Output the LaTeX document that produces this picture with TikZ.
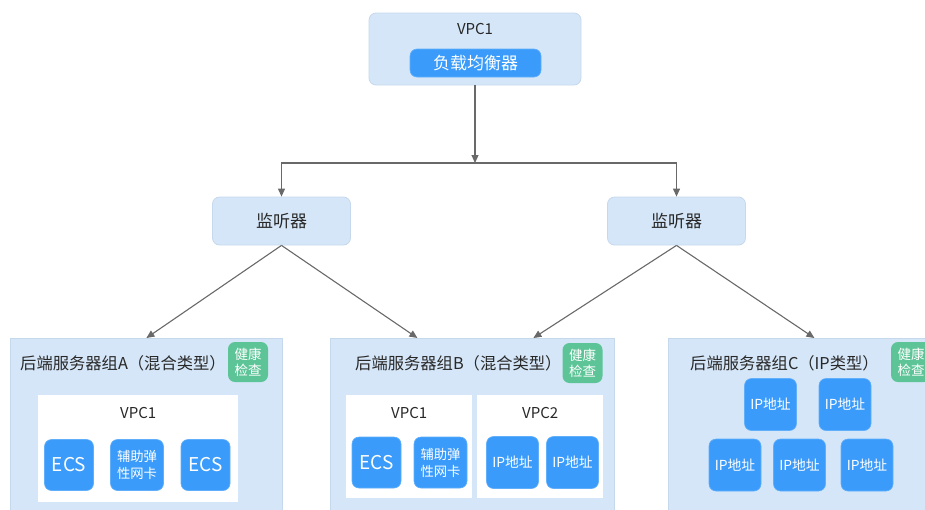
\documentclass[tikz,border=0pt]{standalone}
\usepackage{fontspec}
\setmainfont{Noto Sans CJK SC}
\usetikzlibrary{arrows.meta, positioning, calc}
\definecolor{grpfill}{RGB}{213,230,248}
\definecolor{grpline}{RGB}{198,216,236}
\definecolor{srvblue}{RGB}{58,155,250}
\definecolor{hcgreen}{RGB}{92,196,150}
\definecolor{arrgray}{RGB}{105,105,105}
\definecolor{txtdark}{RGB}{40,40,40}
\tikzset{
  lbbox/.style ={draw=grpline, fill=grpfill, line width=0.8pt,
                 rounded corners=7pt, inner sep=0pt},
  lstbox/.style={lbbox, minimum width=138pt, minimum height=48pt,
                 font=\fontsize{17}{19}\selectfont, text=txtdark},
  grpbox/.style={draw=grpline, fill=grpfill, line width=0.8pt,
                 anchor=north west, minimum height=185pt, inner sep=0pt},
  vpcbox/.style={fill=white, anchor=north west, inner sep=0pt},
  vpclbl/.style={font=\fontsize{15}{17}\selectfont, text=txtdark, inner sep=0pt},
  grplbl/.style={font=\fontsize{16.3}{19}\selectfont, text=txtdark,
                 anchor=west, inner sep=0pt},
  srvbox/.style={fill=srvblue, draw=srvblue!80!white, line width=0.6pt,
                 rounded corners=7pt, text=white, align=center,
                 minimum width=49pt, minimum height=51pt, inner sep=0pt},
  ecs/.style   ={srvbox, font=\fontsize{19}{21}\selectfont},
  nic/.style   ={srvbox, minimum width=53pt, font=\fontsize{13.3}{17}\selectfont},
  ipbox/.style ={srvbox, minimum width=52pt, minimum height=52pt,
                 font=\fontsize{13.8}{16}\selectfont},
  hcbox/.style ={fill=hcgreen, rounded corners=7pt, text=white, align=center,
                 minimum width=40pt, minimum height=40pt, inner sep=0pt,
                 font=\fontsize{13.5}{16}\selectfont},
  arr/.style   ={-{Triangle[length=8pt,width=7pt]}, line width=1.1pt, arrgray},
}

\begin{document}
\begin{tikzpicture}[x=1pt, y=-1pt]
\useasboundingbox (0,0) rectangle (925,509);
\clip (0,0) rectangle (925,509);

%% ════════════════════════════════════════════════════════════
%%  TOP — load balancer in VPC1
%% ════════════════════════════════════════════════════════════
\node[lbbox, minimum width=212pt, minimum height=72pt] (lbtop) at (475,49) {};
\node[vpclbl, below=11pt of lbtop.north] (lbvpc) {VPC1};
\node[srvbox, minimum width=131pt, minimum height=28pt,
      font=\fontsize{17}{19}\selectfont] (lb) at (475.5,63) {负载均衡器};

% listeners
\node[lstbox] (lsa) at (281.5,221) {监听器};
\node[lstbox] (lsb) at (676.5,221) {监听器};

% arrows down
\coordinate (jn) at (475,163);
\draw[arr] (lbtop.south) -- (jn);
\draw[arr] (jn) -| (lsa.north);
\draw[arr] (jn) -| (lsb.north);

%% ════════════════════════════════════════════════════════════
%%  BACKEND SERVER GROUPS
%% ════════════════════════════════════════════════════════════
\node[grpbox, minimum width=272pt] (ga) at (10,338) {};
\node[grpbox, minimum width=284pt] (gb) at (330,338) {};
\node[grpbox, minimum width=292pt] (gc) at (668,338) {};

\draw[arr] (lsa.south) -- (ga.north);
\draw[arr] (lsa.south) -- ($(gb.north)+(-55,0)$);
\draw[arr] (lsb.south) -- ($(gb.north)+(61,0)$);
\draw[arr] (lsb.south) -- (gc.north);

% group titles and health checks
\node[grplbl] (ta) at (20,363)  {后端服务器组A（混合类型）};
\node[grplbl] (tb) at (355,363) {后端服务器组B（混合类型）};
\node[grplbl] (tc) at (690,363) {后端服务器组C（IP类型）};
\node[hcbox] (hca) at (248,362)   {健康\\检查};
\node[hcbox] (hcb) at (582.5,363) {健康\\检查};
\node[hcbox] (hcc) at (911,362)   {健康\\检查};

% group A
\node[vpcbox, minimum width=200pt, minimum height=107pt] (va) at (38,395) {};
\node[vpclbl, below=12pt of va.north] {VPC1};
\node[ecs] (a1) at (69,465)    {ECS};
\node[nic] (a2) at (137,465)   {辅助弹\\性网卡};
\node[ecs] (a3) at (205.5,465) {ECS};

% group B
\node[vpcbox, minimum width=126pt, minimum height=103pt] (vb1) at (346,395) {};
\node[vpcbox, minimum width=126pt, minimum height=103pt] (vb2) at (477,395) {};
\node[vpclbl, below=12pt of vb1.north] {VPC1};
\node[vpclbl, below=12pt of vb2.north] {VPC2};
\node[ecs]   (b1) at (376.5,462.5) {ECS};
\node[nic]   (b2) at (440.5,462.5) {辅助弹\\性网卡};
\node[ipbox] (b3) at (512.5,462.5) {IP地址};
\node[ipbox] (b4) at (572.5,462.5) {IP地址};

% group C
\node[ipbox] (c1) at (770.5,404.5) {IP地址};
\node[ipbox] (c2) at (845,404.5)   {IP地址};
\node[ipbox] (c3) at (735,465)     {IP地址};
\node[ipbox] (c4) at (799.5,465)   {IP地址};
\node[ipbox] (c5) at (867,465)     {IP地址};

\end{tikzpicture}
\end{document}
